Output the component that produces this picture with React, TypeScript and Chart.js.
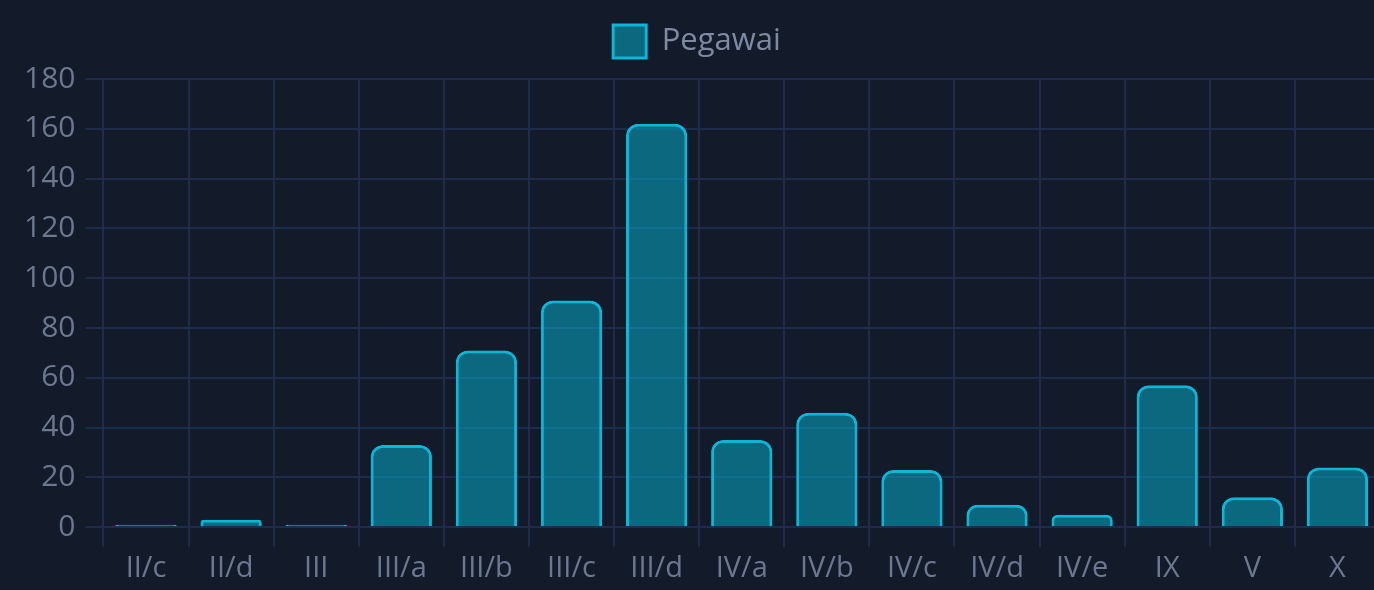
import React, { useEffect, useRef } from "react";
import { Chart, registerables } from "chart.js";

Chart.register(...registerables);

const categories = ["II/c", "II/d", "III", "III/a", "III/b", "III/c", "III/d", "IV/a", "IV/b", "IV/c", "IV/d", "IV/e", "IX", "V", "X"];
const pegawai = [1, 3, 1, 33, 71, 91, 162, 35, 46, 23, 9, 5, 57, 12, 24];
const yTicks = [0, 20, 40, 60, 80, 100, 120, 140, 160, 180];
const seriesLabel = "Pegawai";

const BG = "#131a29";
const GRID = "#1f2b4a";
const TICK = "#6b7890";

const legendSpacer = {
  id: "legendSpacer",
  afterInit(chart: any) {
    const lg = chart.legend;
    if (!lg) return;
    const orig = lg.fit;
    lg.fit = function () {
      orig.call(this);
      this.height += 11;
    };
  },
};

export default function App() {
  const ref = useRef<HTMLCanvasElement | null>(null);
  useEffect(() => {
    document.body.style.margin = "0";
    document.body.style.background = BG;
    document.body.style.overflow = "hidden";
    const ctx = ref.current!;
    const chart = new Chart(ctx, {
      type: "bar",
      data: {
        labels: categories,
        datasets: [
          {
            label: seriesLabel,
            data: pegawai,
            backgroundColor: "rgba(6,182,212,0.5)",
            borderColor: "#08b8d6",
            borderWidth: 3,
            borderRadius: 12,
          },
        ],
      },
      plugins: [legendSpacer],
      options: {
        animation: false,
        responsive: false,
        maintainAspectRatio: false,
        layout: { padding: { left: 14, right: 12, top: 0, bottom: 0 } },
        plugins: {
          legend: {
            display: true,
            labels: {
              color: "#7d8aa2",
              font: { family: "'Open Sans'", size: 31 },
              boxWidth: 33,
              boxHeight: 33,
              padding: 25,
            },
          },
          tooltip: { enabled: false },
        },
        scales: {
          x: {
            grid: { color: GRID, lineWidth: 2, tickLength: 20 },
            border: { color: GRID, width: 2 },
            ticks: { color: TICK, font: { family: "'Open Sans'", size: 29 }, padding: 4, maxRotation: 0 },
          },
          y: {
            min: 0,
            max: 180,
            afterBuildTicks: (axis: any) => {
              axis.ticks = yTicks.map((v) => ({ value: v }));
            },
            grid: { color: GRID, lineWidth: 2, tickLength: 18 },
            border: { color: GRID, width: 2 },
            ticks: { color: TICK, font: { family: "'Open Sans'", size: 30 }, padding: 10 },
          },
        },
      },
    });
    return () => chart.destroy();
  }, []);
  return (
    <div style={{ position: "fixed", left: 0, top: 0, width: 1392, height: 590, background: BG }}>
      <canvas ref={ref} width={1392} height={590} style={{ display: "block", width: 1392, height: 590 }} />
    </div>
  );
}
